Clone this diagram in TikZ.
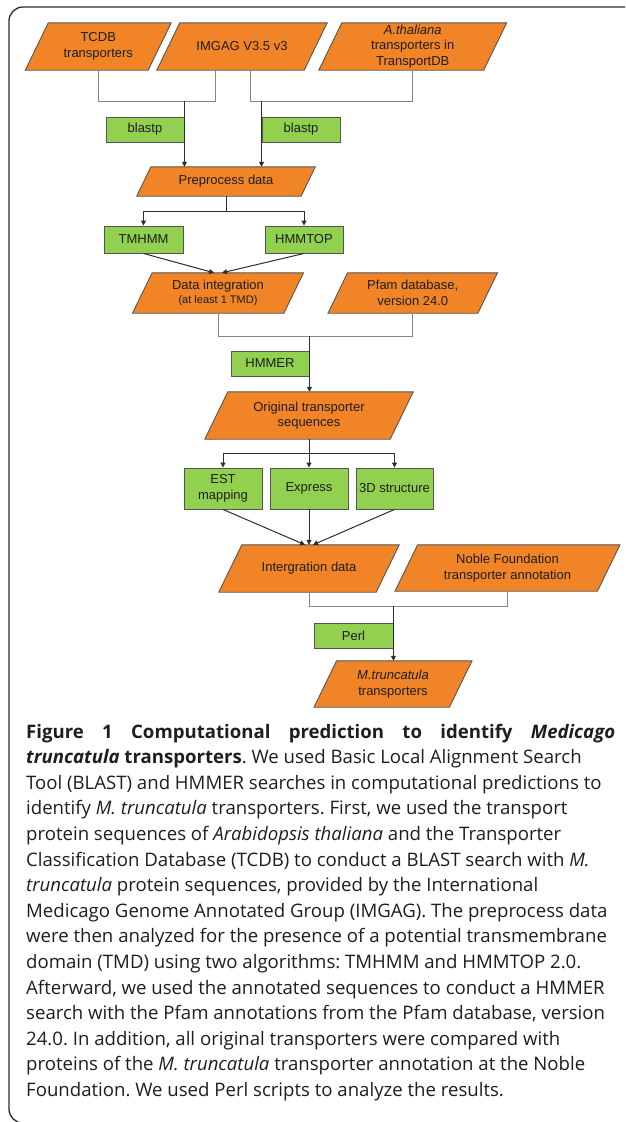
\documentclass[tikz,border=0pt]{standalone}
\usepackage{fontspec}
\setmainfont{Liberation Sans}
\newfontfamily\capfont{Open Sans}
\usetikzlibrary{arrows.meta}
\pgfdeclarelayer{bg}
\pgfsetlayers{bg,main}
\frenchspacing
\definecolor{orangefill}{RGB}{240,132,38}
\definecolor{greenfill}{RGB}{146,208,80}
\definecolor{edgegray}{RGB}{85,85,85}
\definecolor{linegray}{RGB}{135,135,135}
\definecolor{darkline}{RGB}{45,45,45}
\definecolor{txt}{RGB}{30,30,30}
\tikzset{
  paratext/.style={rectangle, inner sep=0pt, align=center, text=txt,
    font=\fontsize{13}{15.5}\selectfont},
  parashape/.style={fill=orangefill, draw=edgegray, line width=0.9pt, line join=miter},
  greenbox/.style={rectangle, inner sep=0pt, align=center, text=txt,
    fill=greenfill, draw=edgegray, line width=0.9pt,
    font=\fontsize{13}{15.5}\selectfont},
  bracketline/.style={draw=linegray, line width=1pt},
  darkconn/.style={draw=darkline, line width=1pt},
  arrowconn/.style={draw=darkline, line width=1pt, -{Triangle[length=5pt,width=5pt]}},
  capline/.style={anchor=base west, inner sep=0pt, text=txt,
    font=\capfont\fontsize{18.6}{25.6}\selectfont},
  framestyle/.style={draw=darkline, line width=1.3pt, rounded corners=14pt}
}
\newcommand\paranode[6]{%
  \node[paratext, minimum width=#4pt, minimum height=#5pt] (#1) at (#2,#3) {#6};
  \pgfmathsetmacro\sk{0.245*#5}%
  \begin{pgfonlayer}{bg}
  \draw[parashape] ([xshift=\sk pt]#1.north west) -- ([xshift=\sk pt]#1.north east)
     -- ([xshift=-\sk pt]#1.south east) -- ([xshift=-\sk pt]#1.south west) -- cycle;
  \end{pgfonlayer}}
\begin{document}
\begin{tikzpicture}[x=1pt,y=-1pt]
\useasboundingbox (0,0) rectangle (625,1122);
\begin{pgfonlayer}{bg}
\fill[white] (0,0) rectangle (625,1122);
\end{pgfonlayer}
\clip (0,0) rectangle (625,1122);
\draw[framestyle] (660,7) -- (9,7) -- (9,1123) -- (660,1123);

% parallelograms
\paranode{tcdb}{98.25}{46.5}{122.5}{47}{TCDB\\transporters}
\paranode{imgag}{242}{46.5}{147}{47}{IMGAG V3.5 v3}
\paranode{athal}{412.75}{46.5}{164.5}{47}{\textit{A.thaliana}\\transporters in\\TransportDB}
\paranode{prep}{226}{181.5}{164}{29}{Preprocess data}
\paranode{dataint}{218}{293}{151}{40}{Data integration\\[-1pt]{\fontsize{11}{13}\selectfont (at least 1 TMD)}}
\paranode{pfam}{412.75}{293}{149.5}{40}{Pfam database,\\version 24.0}
\paranode{orig}{309}{415.5}{185}{47}{Original transporter\\sequences}
\paranode{integ}{309}{568.5}{157}{47}{Intergration data}
\paranode{noble}{507.5}{568}{202}{46}{Noble Foundation\\transporter annotation}
\paranode{mtrunc}{393}{684}{135}{46}{\textit{M.truncatula}\\transporters}

% green boxes
\node[greenbox, minimum width=78pt, minimum height=25pt] (blastL) at (145,129.5) {blastp};
\node[greenbox, minimum width=78pt, minimum height=25pt] (blastR) at (301,129.5) {blastp};
\node[greenbox, minimum width=79pt, minimum height=27pt] (tmhmm) at (143.5,239.5) {TMHMM};
\node[greenbox, minimum width=78pt, minimum height=27pt] (hmmtop) at (304,239.5) {HMMTOP};
\node[greenbox, minimum width=78pt, minimum height=25pt] (hmmer) at (270,363.5) {HMMER};
\node[greenbox, minimum width=78pt, minimum height=41pt] (est) at (223,488.5) {EST\\mapping};
\node[greenbox, minimum width=78pt, minimum height=41pt] (express) at (309,488.5) {Express};
\node[greenbox, minimum width=77pt, minimum height=41pt] (struct) at (394.5,488.5) {3D structure};
\node[greenbox, minimum width=79pt, minimum height=25pt] (perl) at (353.5,635.5) {Perl};

% junction levels
\coordinate (j1) at (0,101);
\coordinate (j2) at (0,211);
\coordinate (j3) at (0,336);
\coordinate (j4) at (0,453);
\coordinate (j5) at (0,606);

% connectors
\draw[bracketline] (tcdb.south) |- ([xshift=-27pt]imgag.south |- j1) -- ([xshift=-27pt]imgag.south);
\draw[bracketline] ([xshift=8pt]imgag.south) |- (athal.south |- j1) -- (athal.south);
\draw[arrowconn] (blastL.east |- j1) -- (blastL.east |- prep.north);
\draw[arrowconn] (blastR.west |- j1) -- (blastR.west |- prep.north);

\draw[darkconn] (prep.south) -- (prep.south |- j2);
\draw[arrowconn] (prep.south |- j2) -| (tmhmm.north);
\draw[arrowconn] (prep.south |- j2) -| (hmmtop.north);
\draw[arrowconn] (tmhmm.south) -- ([xshift=-4pt]dataint.north);
\draw[arrowconn] (hmmtop.south) -- ([xshift=4pt]dataint.north);

\draw[bracketline] (dataint.south) |- (pfam.south |- j3) -- (pfam.south);
\draw[arrowconn] (hmmer.east |- j3) -- (hmmer.east |- orig.north);

\draw[darkconn] (orig.south) -- (orig.south |- j4);
\draw[arrowconn] (orig.south |- j4) -| (est.north);
\draw[arrowconn] (orig.south |- j4) -- (express.north);
\draw[arrowconn] (orig.south |- j4) -| (struct.north);
\draw[arrowconn] (est.south) -- ([xshift=-4pt]integ.north);
\draw[arrowconn] (express.south) -- (integ.north);
\draw[arrowconn] (struct.south) -- ([xshift=4pt]integ.north);

\draw[bracketline] (integ.south) |- (noble.south |- j5) -- (noble.south);
\draw[arrowconn] (perl.east |- j5) -- (perl.east |- mtrunc.north);

% caption
\node[capline] (c1) at (26,738) {\makebox[589pt][s]{\bfseries Figure 1 Computational prediction to identify \textit{Medicago}}};
\node[capline] (c2) at (26,763.6) {\textbf{\textit{truncatula} transporters}. We used Basic Local Alignment Search};
\node[capline] (c3) at (26,789.2) {Tool (BLAST) and HMMER searches in computational predictions to};
\node[capline] (c4) at (26,814.8) {identify \textit{M. truncatula} transporters. First, we used the transport};
\node[capline] (c5) at (26,840.4) {protein sequences of \textit{Arabidopsis thaliana} and the Transporter};
\node[capline] (c6) at (26,866.0) {Classification Database (TCDB) to conduct a BLAST search with \textit{M.}};
\node[capline] (c7) at (26,891.6) {\textit{truncatula} protein sequences, provided by the International};
\node[capline] (c8) at (26,917.2) {Medicago Genome Annotated Group (IMGAG). The preprocess data};
\node[capline] (c9) at (26,942.8) {were then analyzed for the presence of a potential transmembrane};
\node[capline] (c10) at (26,968.4) {domain (TMD) using two algorithms: TMHMM and HMMTOP 2.0.};
\node[capline] (c11) at (26,994.0) {Afterward, we used the annotated sequences to conduct a HMMER};
\node[capline] (c12) at (26,1019.6) {search with the Pfam annotations from the Pfam database, version};
\node[capline] (c13) at (26,1045.2) {24.0. In addition, all original transporters were compared with};
\node[capline] (c14) at (26,1070.8) {proteins of the \textit{M. truncatula} transporter annotation at the Noble};
\node[capline] (c15) at (26,1096.4) {Foundation. We used Perl scripts to analyze the results.};
\end{tikzpicture}
\end{document}
